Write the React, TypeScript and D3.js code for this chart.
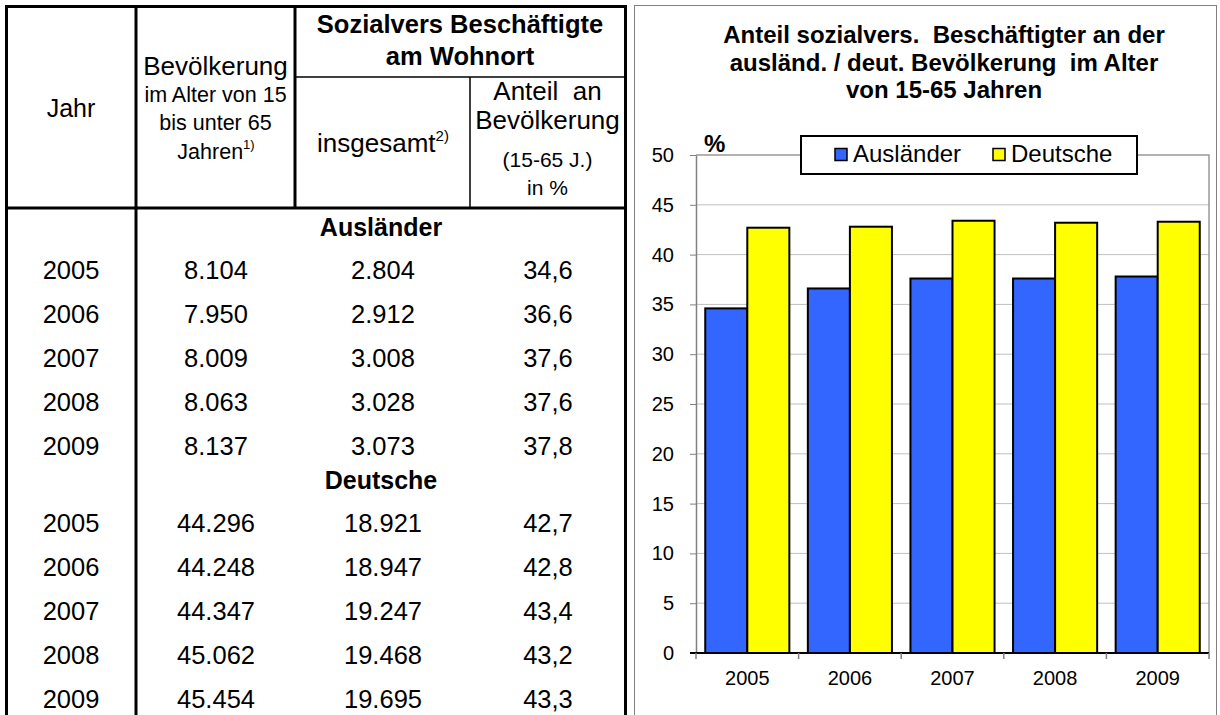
import React, { useEffect, useRef } from "react";
import * as d3 from "d3";

const years = ["2005", "2006", "2007", "2008", "2009"];
const auslaenderBevoelkerung = [8104, 7950, 8009, 8063, 8137];
const auslaenderBeschaeftigte = [2804, 2912, 3008, 3028, 3073];
const auslaenderAnteil = [34.6, 36.6, 37.6, 37.6, 37.8];
const deutscheBevoelkerung = [44296, 44248, 44347, 45062, 45454];
const deutscheBeschaeftigte = [18921, 18947, 19247, 19468, 19695];
const deutscheAnteil = [42.7, 42.8, 43.4, 43.2, 43.3];
const seriesNames = ["Ausländer", "Deutsche"];
const seriesColors = ["#3366ff", "#ffff00"];
const yTicks = [0, 5, 10, 15, 20, 25, 30, 35, 40, 45, 50];
const titleLines = [
  "Anteil sozialvers.  Beschäftigter an der",
  "ausländ. / deut. Bevölkerung  im Alter",
  "von 15-65 Jahren",
];

const FONT = "Arial, 'Liberation Sans', sans-serif";

const de = d3.formatLocale({
  decimal: ",",
  thousands: ".",
  grouping: [3],
  currency: ["", " €"],
});
const fmtInt = de.format(",d");
const fmtPct = de.format(".1f");

const App = () => {
  const ref = useRef<SVGSVGElement>(null);

  useEffect(() => {
    const svg = d3.select(ref.current);
    svg.selectAll("*").remove();
    svg.style("font-family", FONT);

    // ---------- table ----------
    const table = svg.append("g");
    const rule = (x1, y1, x2, y2, w = 3) =>
      table
        .append("line")
        .attr("x1", x1)
        .attr("y1", y1)
        .attr("x2", x2)
        .attr("y2", y2)
        .attr("stroke", "#000")
        .attr("stroke-width", w);

    rule(6.5, 5, 6.5, 715); // left
    rule(5, 6.5, 627, 6.5); // top
    rule(136, 5, 136, 715);
    rule(295, 5, 295, 208);
    rule(625.5, 5, 625.5, 715); // right
    rule(5, 208, 627, 208);
    rule(295, 77, 625, 77, 1.5);
    rule(470, 77, 470, 208, 1.5);

    const txt = (x, y, s, size, bold = false) =>
      table
        .append("text")
        .attr("x", x)
        .attr("y", y)
        .attr("text-anchor", "middle")
        .attr("font-size", size)
        .attr("font-weight", bold ? "bold" : "normal")
        .attr("fill", "#000")
        .attr("xml:space", "preserve")
        .style("white-space", "pre")
        .text(s);

    txt(71, 117, "Jahr", 25);
    txt(215.5, 75, "Bevölkerung", 26);
    txt(215.5, 102, "im Alter von 15", 21.5);
    txt(215.5, 130, "bis unter 65", 21.5);
    const jahren = txt(216, 159, "Jahren", 21.5);
    jahren.append("tspan").attr("dy", -10).attr("font-size", 13).text("1)");

    txt(460, 33, "Sozialvers Beschäftigte", 25.5, true);
    txt(460, 65, "am Wohnort", 25.5, true);

    const insg = txt(383, 152, "insgesamt", 26);
    insg.append("tspan").attr("dy", -11).attr("font-size", 15).text("2)");

    txt(547.5, 100, "Anteil\u00a0 an", 26);
    txt(547.5, 129, "Bevölkerung", 26);
    txt(547.5, 167, "(15-65 J.)", 21);
    txt(547.5, 195, "in %", 21);

    const rowBlock = (label, top, bev, besch, anteil) => {
      txt(381, top, label, 25, true);
      years.forEach((yr, i) => {
        const yy = top + 43 + i * 44;
        txt(71, yy, yr, 25.5);
        txt(216, yy, fmtInt(bev[i]), 25.5);
        txt(383, yy, fmtInt(besch[i]), 25.5);
        txt(548, yy, fmtPct(anteil[i]), 25.5);
      });
    };
    rowBlock("Ausländer", 236, auslaenderBevoelkerung, auslaenderBeschaeftigte, auslaenderAnteil);
    rowBlock("Deutsche", 489, deutscheBevoelkerung, deutscheBeschaeftigte, deutscheAnteil);

    // ---------- chart ----------
    const chart = svg.append("g");
    chart
      .append("rect")
      .attr("x", 634.5)
      .attr("y", 5.5)
      .attr("width", 582)
      .attr("height", 720)
      .attr("fill", "#fff")
      .attr("stroke", "#808080");

    chart
      .append("g")
      .selectAll("text")
      .data(titleLines)
      .enter()
      .append("text")
      .attr("x", 944)
      .attr("y", (d, i) => 43 + i * 27.5)
      .attr("text-anchor", "middle")
      .attr("font-size", 24)
      .attr("font-weight", "bold")
      .text((d) => d.replace(/  /g, "\u00a0 "));

    const x0 = d3.scaleBand().domain(years).range([696, 1209]);
    const x1 = d3
      .scaleBand()
      .domain(seriesNames)
      .range([0, x0.bandwidth()])
      .paddingInner(0)
      .paddingOuter(0.22);
    const y = d3.scaleLinear().domain([0, 50]).range([653, 155]);

    // gridlines
    chart
      .append("g")
      .selectAll("line")
      .data(yTicks.filter((t) => t > 0 && t < 50))
      .enter()
      .append("line")
      .attr("x1", 696)
      .attr("x2", 1209)
      .attr("y1", (d) => y(d))
      .attr("y2", (d) => y(d))
      .attr("stroke", "#c0c0c0")
      .attr("stroke-width", 1);

    // plot frame top + right
    chart
      .append("path")
      .attr("d", `M696,${y(50)}H1209V${y(0)}`)
      .attr("fill", "none")
      .attr("stroke", "#999")
      .attr("stroke-width", 1.5);

    // y axis
    const yAxis = chart
      .append("g")
      .attr("transform", "translate(696,0)")
      .call(
        d3
          .axisLeft(y)
          .tickValues(yTicks)
          .tickSize(6)
          .tickSizeOuter(0)
          .tickPadding(16)
      );
    yAxis.select(".domain").attr("stroke", "#808080").attr("stroke-width", 1.5);
    yAxis.selectAll(".tick line").attr("stroke", "#808080");
    yAxis
      .selectAll(".tick text")
      .attr("font-size", 20)
      .attr("font-family", FONT)
      .attr("fill", "#000");

    // bars
    const rows = years.map((yr, i) => ({
      year: yr,
      values: [auslaenderAnteil[i], deutscheAnteil[i]],
    }));
    chart
      .append("g")
      .selectAll("g")
      .data(rows)
      .enter()
      .append("g")
      .attr("transform", (d) => `translate(${x0(d.year)},0)`)
      .selectAll("rect")
      .data((d) => d.values.map((v, k) => ({ key: seriesNames[k], v, k })))
      .enter()
      .append("rect")
      .attr("x", (d) => x1(d.key))
      .attr("y", (d) => y(d.v))
      .attr("width", x1.bandwidth())
      .attr("height", (d) => y(0) - y(d.v))
      .attr("fill", (d) => seriesColors[d.k])
      .attr("stroke", "#000")
      .attr("stroke-width", 2);

    // x axis
    chart
      .append("line")
      .attr("x1", 690)
      .attr("x2", 1209)
      .attr("y1", y(0))
      .attr("y2", y(0))
      .attr("stroke", "#000")
      .attr("stroke-width", 2);
    const bounds = years.map((yr) => x0(yr)).concat([x0.range()[1]]);
    chart
      .append("g")
      .selectAll("line")
      .data(bounds)
      .enter()
      .append("line")
      .attr("x1", (d) => d)
      .attr("x2", (d) => d)
      .attr("y1", y(0))
      .attr("y2", y(0) + 6)
      .attr("stroke", "#808080")
      .attr("stroke-width", 1.5);
    chart
      .append("g")
      .selectAll("text")
      .data(years)
      .enter()
      .append("text")
      .attr("x", (d) => x0(d) + x0.bandwidth() / 2)
      .attr("y", 685)
      .attr("text-anchor", "middle")
      .attr("font-size", 20)
      .text((d) => d);

    // unit label
    chart
      .append("text")
      .attr("x", 704)
      .attr("y", 152)
      .attr("font-size", 24)
      .attr("font-weight", "bold")
      .text("%");

    // legend
    const legend = chart.append("g");
    legend
      .append("rect")
      .attr("x", 801)
      .attr("y", 136)
      .attr("width", 336)
      .attr("height", 38)
      .attr("fill", "#fff")
      .attr("stroke", "#000")
      .attr("stroke-width", 2);
    const legendX = [835, 993];
    const item = legend
      .selectAll(".legend")
      .data(seriesNames)
      .enter()
      .append("g")
      .attr("class", "legend")
      .attr("transform", (d, i) => `translate(${legendX[i]},0)`);
    item
      .append("rect")
      .attr("x", 0)
      .attr("y", 148.5)
      .attr("width", 12)
      .attr("height", 12)
      .attr("fill", (d, i) => seriesColors[i])
      .attr("stroke", "#000")
      .attr("stroke-width", 1.5);
    item
      .append("text")
      .attr("x", 18)
      .attr("y", 162)
      .attr("font-size", 24)
      .text((d) => d);
  }, []);

  return (
    <svg
      ref={ref}
      width={1220}
      height={715}
      style={{ position: "absolute", left: 0, top: 0, background: "#fff" }}
    />
  );
};

export default App;
